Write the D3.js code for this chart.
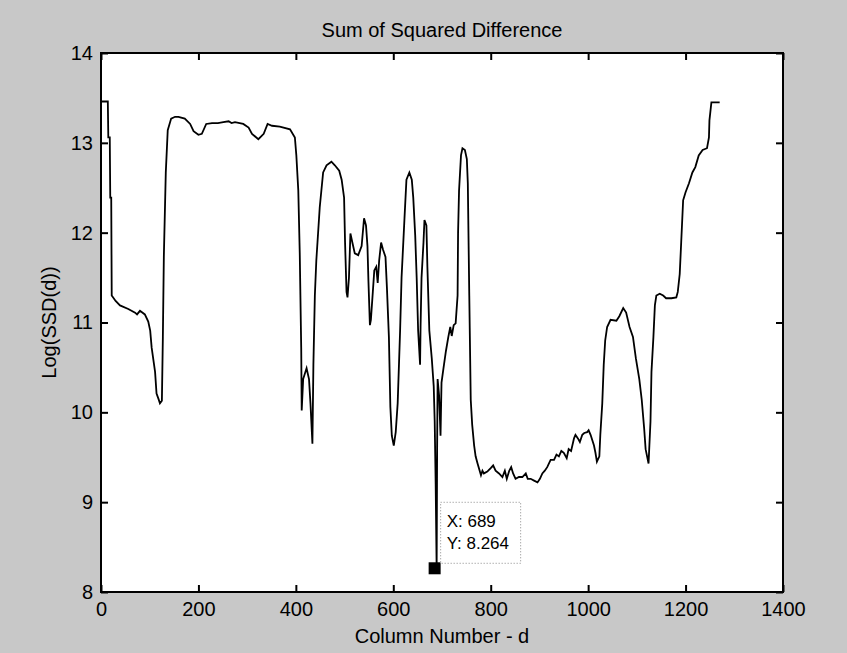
<!DOCTYPE html>
<html>
<head>
<meta charset="utf-8">
<script src="https://cdn.jsdelivr.net/npm/d3@7"></script>
<style>
  body { margin: 0; background: #c8c8c8; }
  text { font-family: "Liberation Sans", Arial, sans-serif; fill: #000; }
</style>
</head>
<body>
<div id="chart"></div>
<script>
// values
const colNum = [0,14,15,18,19,21,22,30,39,56,70,74,80,90,97,101,104,111,114,118,121,125,127,129,133,137,144,152,159,172,183,190,200,207,216,228,240,251,262,268,275,292,303,310,323,334,342,351,367,388,398,401,405,408,411,412,415,422,427,430,434,436,439,442,449,456,463,473,480,489,494,499,501,504,506,509,512,516,521,528,535,540,544,547,549,552,554,558,561,565,568,571,575,579,584,587,591,594,597,601,605,609,614,617,623,627,633,638,641,645,648,651,655,656,658,662,664,668,670,674,679,683,685,687,689,690,691,694,697,699,703,708,713,717,720,724,728,732,733,735,739,742,747,751,753,756,759,762,766,769,773,780,783,786,793,800,805,810,817,824,829,833,838,842,846,851,858,865,872,876,882,889,896,901,906,911,916,923,930,935,940,945,950,956,960,965,971,974,979,983,988,992,998,1001,1005,1012,1015,1018,1023,1025,1029,1032,1035,1039,1046,1058,1064,1072,1078,1085,1092,1098,1105,1110,1115,1118,1121,1124,1128,1130,1134,1137,1140,1147,1154,1160,1171,1181,1184,1188,1191,1195,1200,1207,1214,1220,1227,1235,1244,1248,1249,1253,1270];
const logSSD = [13.46,13.46,13.06,13.06,12.39,12.39,11.30,11.24,11.19,11.15,11.11,11.09,11.13,11.09,11.01,10.91,10.72,10.45,10.21,10.15,10.10,10.13,10.84,11.73,12.67,13.14,13.27,13.29,13.29,13.27,13.21,13.13,13.09,13.10,13.21,13.22,13.22,13.23,13.24,13.22,13.23,13.21,13.17,13.10,13.04,13.10,13.21,13.19,13.18,13.15,13.06,12.86,12.47,11.77,10.72,10.02,10.37,10.49,10.37,10.10,9.65,10.53,11.30,11.69,12.28,12.67,12.75,12.79,12.75,12.69,12.59,12.39,11.89,11.34,11.28,11.50,11.99,11.89,11.77,11.75,11.85,12.16,12.08,11.85,11.46,10.97,11.03,11.34,11.58,11.62,11.44,11.69,11.89,11.81,11.73,11.38,10.84,10.06,9.74,9.63,9.78,10.10,10.91,11.50,12.16,12.59,12.67,12.59,12.39,11.97,11.50,10.91,10.53,10.95,11.50,11.89,12.14,12.08,11.62,10.91,10.60,10.29,9.90,9.20,8.264,9.60,10.37,10.19,9.74,10.33,10.49,10.68,10.84,10.95,10.85,10.97,10.99,11.30,12.00,12.47,12.86,12.94,12.92,12.82,12.55,11.30,10.14,9.86,9.63,9.51,9.43,9.30,9.35,9.32,9.34,9.38,9.41,9.35,9.32,9.28,9.35,9.26,9.35,9.39,9.32,9.26,9.28,9.28,9.32,9.26,9.26,9.24,9.22,9.26,9.32,9.35,9.39,9.47,9.47,9.53,9.51,9.57,9.55,9.49,9.59,9.57,9.71,9.75,9.71,9.67,9.75,9.77,9.78,9.80,9.75,9.63,9.55,9.45,9.51,9.75,10.10,10.53,10.80,10.95,11.03,11.02,11.07,11.16,11.11,10.95,10.84,10.60,10.37,10.14,9.82,9.59,9.51,9.43,9.90,10.45,10.84,11.19,11.30,11.32,11.30,11.27,11.27,11.28,11.34,11.54,11.89,12.36,12.45,12.55,12.67,12.73,12.86,12.92,12.94,13.06,13.25,13.45,13.45];

const xTicks = [0,200,400,600,800,1000,1200,1400];
const yTicks = [8,9,10,11,12,13,14];
const marker = { x: 689, y: 8.264 };

const W = 847, H = 653;
const margin = { top: 53, right: 64, bottom: 61, left: 101 };
const innerW = W - margin.left - margin.right;
const innerH = H - margin.top - margin.bottom;

const svg = d3.select("#chart").append("svg")
  .attr("width", W).attr("height", H);

svg.append("rect").attr("width", W).attr("height", H).attr("fill", "#c8c8c8");

const g = svg.append("g").attr("transform", `translate(${margin.left},${margin.top})`);

const x = d3.scaleLinear().domain([0, 1400]).range([0, innerW]);
const y = d3.scaleLinear().domain([8, 14]).range([innerH, 0]);

g.append("rect").attr("width", innerW).attr("height", innerH).attr("fill", "#fff");

// ticks on all four sides, pointing in
const tick = 7;
g.append("g").attr("transform", `translate(0,${innerH})`)
  .call(d3.axisBottom(x).tickValues(xTicks).tickFormat(d3.format("d")).tickSize(-tick).tickPadding(tick + 3))
  .call(a => a.select(".domain").remove());
g.append("g")
  .call(d3.axisTop(x).tickValues(xTicks).tickSize(-tick).tickFormat(""))
  .call(a => a.select(".domain").remove());
g.append("g")
  .call(d3.axisLeft(y).tickValues(yTicks).tickFormat(d3.format("d")).tickSize(-tick).tickPadding(tick + 1))
  .call(a => a.select(".domain").remove());
g.append("g").attr("transform", `translate(${innerW},0)`)
  .call(d3.axisRight(y).tickValues(yTicks).tickSize(-tick).tickFormat(""))
  .call(a => a.select(".domain").remove());

g.selectAll(".tick line").attr("stroke", "#000").attr("stroke-width", 2);
g.selectAll(".tick text").style("font-size", "20px").attr("fill", "#000");

// curve
const pts = colNum.map((c, i) => [c, logSSD[i]]);
g.append("path")
  .datum(pts)
  .attr("fill", "none")
  .attr("stroke", "#000")
  .attr("stroke-width", 1.8)
  .attr("d", d3.line().x(d => x(d[0])).y(d => y(d[1])));

// frame
g.append("rect").attr("width", innerW).attr("height", innerH)
  .attr("fill", "none").attr("stroke", "#000").attr("stroke-width", 2);

// data tip
const mx = x(marker.x), my = y(marker.y);
g.append("rect")
  .attr("x", mx - 8).attr("y", my - 6).attr("width", 12).attr("height", 12)
  .attr("fill", "#000");
const tip = g.append("g").attr("transform", `translate(${mx + 4},${my - 66})`);
tip.append("rect").attr("width", 80).attr("height", 61)
  .attr("fill", "#fff").attr("stroke", "#888").attr("stroke-width", 1)
  .attr("stroke-dasharray", "1 2");
tip.append("text").attr("x", 6).attr("y", 25).style("font-size", "17px").text("X: " + marker.x);
tip.append("text").attr("x", 6).attr("y", 47).style("font-size", "17px").text("Y: " + marker.y);

// titles
svg.append("text")
  .attr("x", margin.left + innerW / 2).attr("y", 37)
  .attr("text-anchor", "middle")
  .style("font-size", "20px")
  .text("Sum of Squared Difference");

svg.append("text")
  .attr("x", margin.left + innerW / 2).attr("y", 643)
  .attr("text-anchor", "middle")
  .style("font-size", "20px")
  .text("Column Number - d");

svg.append("text")
  .attr("transform", `translate(56,${margin.top + innerH / 2}) rotate(-90)`)
  .attr("text-anchor", "middle")
  .style("font-size", "20px")
  .text("Log(SSD(d))");
</script>
</body>
</html>
